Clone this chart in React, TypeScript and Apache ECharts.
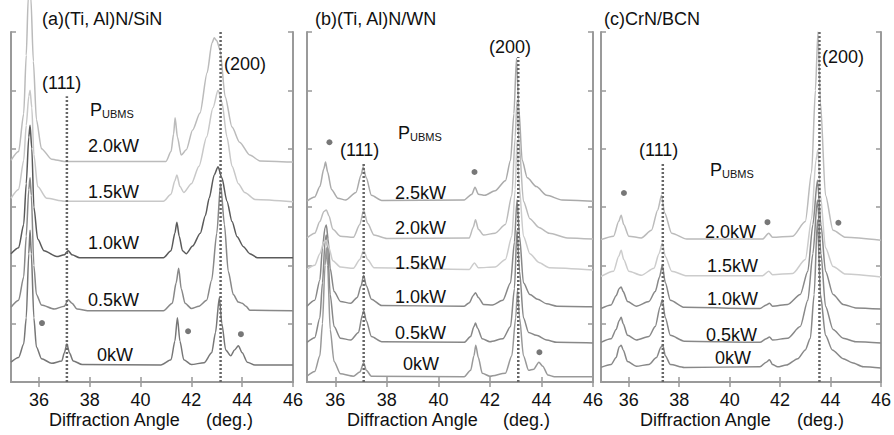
import React, { useEffect, useRef } from 'react';
import * as echarts from 'echarts';

// ---------- tick labels ----------
const X_TICKS = [36, 38, 40, 42, 44, 46];
const X_MIN = 34.9;
const X_MAX = 46;

// ---------- panel (a) (Ti, Al)N/SiN ----------
const a0kW = [[34.9,0.34],[35.2,0.42],[35.4,0.65],[35.5,1.1],[35.6,2.2],[35.65,2.6],[35.7,2.2],[35.8,1.1],[35.9,0.6],[36.1,0.4],[36.5,0.32],[36.9,0.36],[37.0,0.5],[37.1,0.65],[37.2,0.5],[37.35,0.36],[37.7,0.3],[40.8,0.29],[41.2,0.38],[41.35,0.7],[41.45,1.1],[41.55,0.7],[41.7,0.38],[42.0,0.3],[42.5,0.33],[42.8,0.5],[42.95,0.85],[43.1,1.45],[43.2,1.0],[43.35,0.55],[43.55,0.45],[43.7,0.55],[43.85,0.62],[44.0,0.5],[44.2,0.34],[44.5,0.29],[46,0.29]];
const a05kW = [[34.9,1.28],[35.2,1.4],[35.4,1.8],[35.5,2.5],[35.6,3.3],[35.65,3.5],[35.7,3.2],[35.8,2.0],[35.9,1.5],[36.1,1.32],[36.6,1.25],[37.0,1.3],[37.15,1.41],[37.3,1.35],[37.5,1.25],[38,1.22],[40.9,1.22],[41.25,1.35],[41.4,1.7],[41.5,1.95],[41.6,1.6],[41.75,1.35],[42.0,1.26],[42.3,1.3],[42.6,1.4],[42.8,1.75],[43.0,2.55],[43.15,3.4],[43.3,2.7],[43.45,1.9],[43.65,1.5],[43.85,1.37],[44.0,1.35],[44.15,1.3],[44.3,1.23],[46,1.22]];
const a10kW = [[34.9,2.2],[35.2,2.3],[35.4,2.7],[35.5,3.4],[35.6,4.2],[35.65,4.4],[35.72,4.0],[35.8,3.0],[35.95,2.45],[36.2,2.25],[36.7,2.15],[37.0,2.18],[37.15,2.25],[37.3,2.18],[37.6,2.13],[40.9,2.13],[41.2,2.25],[41.35,2.55],[41.43,2.74],[41.52,2.5],[41.65,2.25],[41.8,2.2],[42.05,2.33],[42.35,2.55],[42.55,2.85],[42.7,3.15],[42.9,3.55],[43.05,3.69],[43.2,3.5],[43.4,3.1],[43.6,2.75],[43.8,2.49],[44.05,2.32],[44.3,2.2],[44.6,2.13],[46,2.13]];
const a15kW = [[34.9,3.15],[35.2,3.3],[35.4,3.8],[35.5,4.4],[35.6,4.9],[35.65,5.0],[35.72,4.7],[35.8,3.9],[35.95,3.35],[36.3,3.15],[37,3.1],[40.9,3.1],[41.2,3.22],[41.35,3.45],[41.43,3.55],[41.55,3.35],[41.7,3.25],[42.0,3.4],[42.3,3.7],[42.6,4.2],[42.85,4.7],[43.05,5.0],[43.2,4.8],[43.4,4.2],[43.6,3.7],[43.85,3.4],[44.1,3.25],[44.5,3.13],[46,3.09]];
const a20kW = [[34.9,3.8],[35.2,3.95],[35.4,4.6],[35.5,5.6],[35.58,6.6],[35.68,6.6],[35.78,5.5],[35.9,4.5],[36.1,4.0],[36.5,3.82],[37,3.78],[41.0,3.78],[41.2,3.95],[41.3,4.25],[41.36,4.53],[41.45,4.2],[41.6,3.89],[41.8,3.98],[42.05,4.32],[42.34,4.61],[42.62,5.3],[42.81,5.81],[42.9,5.9],[43.0,5.85],[43.13,5.69],[43.33,4.89],[43.6,4.37],[43.9,4.11],[44.3,3.89],[44.7,3.79],[46,3.77]];
const aStars = [[36.12,1.01],[41.87,0.87],[43.95,0.82]];
const aLine111 = [[37.1,0],[37.1,4.9]];
const aLine200 = [[43.15,0],[43.15,6]];

// ---------- panel (b) (Ti, Al)N/WN ----------
const b0kW = [[34.9,0.1],[35.2,0.18],[35.4,0.45],[35.5,1.0],[35.6,2.0],[35.65,2.3],[35.7,2.0],[35.8,0.9],[35.95,0.35],[36.2,0.14],[36.7,0.1],[36.95,0.17],[37.1,0.33],[37.2,0.2],[37.4,0.1],[41.0,0.09],[41.25,0.2],[41.38,0.45],[41.45,0.63],[41.55,0.42],[41.7,0.15],[42.0,0.1],[42.6,0.15],[42.85,0.45],[43.0,1.1],[43.07,1.58],[43.15,1.1],[43.3,0.45],[43.5,0.2],[43.7,0.22],[43.9,0.34],[44.05,0.27],[44.25,0.12],[44.5,0.09],[46,0.09]];
const b05kW = [[34.9,0.68],[35.2,0.76],[35.4,1.1],[35.5,1.7],[35.6,2.4],[35.65,2.52],[35.7,2.3],[35.8,1.5],[35.95,0.95],[36.2,0.75],[36.6,0.72],[36.9,0.85],[37.05,1.15],[37.1,1.23],[37.2,1.05],[37.4,0.78],[37.8,0.69],[41.0,0.68],[41.25,0.78],[41.38,0.95],[41.44,1.01],[41.52,0.92],[41.7,0.74],[42.0,0.69],[42.5,0.74],[42.8,0.95],[42.95,1.6],[43.05,2.6],[43.15,1.9],[43.3,1.1],[43.5,0.85],[43.8,0.8],[44.2,0.72],[44.6,0.68],[46,0.67]];
const b10kW = [[34.9,1.3],[35.2,1.4],[35.4,1.75],[35.5,2.3],[35.6,2.65],[35.65,2.69],[35.72,2.45],[35.8,1.95],[35.95,1.55],[36.2,1.38],[36.6,1.35],[36.85,1.45],[37.0,1.65],[37.1,1.83],[37.2,1.65],[37.4,1.42],[37.8,1.31],[41.0,1.3],[41.2,1.36],[41.35,1.48],[41.44,1.53],[41.55,1.45],[41.75,1.33],[42.1,1.32],[42.5,1.4],[42.8,1.7],[42.95,2.4],[43.05,3.12],[43.15,2.5],[43.3,1.7],[43.55,1.5],[43.85,1.42],[44.2,1.34],[44.6,1.3],[46,1.29]];
const b15kW = [[34.9,1.93],[35.2,2.0],[35.4,2.2],[35.55,2.4],[35.65,2.43],[35.75,2.3],[35.9,2.08],[36.2,1.97],[36.7,1.95],[36.95,2.1],[37.1,2.26],[37.25,2.1],[37.5,1.96],[41.2,1.93],[41.4,2.04],[41.55,1.96],[42.2,1.97],[42.6,2.1],[42.85,2.5],[42.98,3.3],[43.05,4.15],[43.13,3.4],[43.3,2.5],[43.55,2.2],[43.9,2.05],[44.3,1.96],[46,1.92]];
const b20kW = [[34.9,2.47],[35.2,2.55],[35.4,2.75],[35.55,2.92],[35.65,2.95],[35.75,2.85],[35.9,2.62],[36.2,2.5],[36.7,2.48],[36.95,2.7],[37.1,2.95],[37.25,2.72],[37.5,2.52],[38,2.46],[41.2,2.47],[41.35,2.65],[41.44,2.78],[41.55,2.62],[41.75,2.52],[42.2,2.55],[42.6,2.7],[42.85,3.2],[42.98,4.2],[43.05,4.83],[43.13,4.1],[43.3,3.1],[43.55,2.8],[43.9,2.65],[44.3,2.55],[45,2.47],[46,2.45]];
const b25kW = [[34.9,3.1],[35.2,3.17],[35.4,3.35],[35.55,3.65],[35.62,3.77],[35.7,3.6],[35.85,3.3],[36.1,3.15],[36.4,3.12],[36.8,3.25],[37.0,3.55],[37.08,3.69],[37.2,3.5],[37.4,3.2],[37.8,3.11],[41.0,3.12],[41.3,3.22],[41.42,3.34],[41.55,3.22],[41.8,3.2],[42.2,3.28],[42.6,3.45],[42.8,3.8],[42.93,4.6],[43.03,5.55],[43.12,4.7],[43.25,3.8],[43.45,3.5],[43.8,3.35],[44.2,3.2],[44.8,3.12],[46,3.1]];
const bStars = [[35.77,4.11],[41.4,3.6],[43.92,0.51]];
const bLine111 = [[37.1,0],[37.1,3.77]];
const bLine200 = [[43.1,0],[43.1,5.57]];

// ---------- panel (c) CrN/BCN ----------
const c0kW = [[34.9,0.25],[35.3,0.3],[35.5,0.42],[35.62,0.6],[35.7,0.63],[35.78,0.55],[35.95,0.35],[36.3,0.27],[36.8,0.3],[37.1,0.42],[37.28,0.6],[37.35,0.63],[37.45,0.45],[37.65,0.3],[38.2,0.25],[41.2,0.26],[41.45,0.34],[41.58,0.38],[41.7,0.3],[41.9,0.26],[42.25,0.29],[42.7,0.4],[43.0,0.55],[43.2,0.75],[43.35,1.5],[43.48,2.78],[43.6,1.5],[43.8,0.8],[44.07,0.55],[44.5,0.4],[44.86,0.33],[45.3,0.26],[46,0.24]];
const c05kW = [[34.9,0.68],[35.3,0.74],[35.5,0.9],[35.62,1.05],[35.7,1.11],[35.78,1.0],[35.95,0.8],[36.3,0.72],[36.8,0.78],[37.05,0.95],[37.25,1.3],[37.33,1.41],[37.45,1.1],[37.65,0.8],[38.2,0.7],[41.2,0.68],[41.45,0.74],[41.58,0.77],[41.7,0.72],[42.3,0.75],[42.8,0.95],[43.1,1.4],[43.3,2.2],[43.48,3.12],[43.62,2.2],[43.8,1.3],[44.1,0.9],[44.5,0.75],[45.0,0.69],[46,0.67]];
const c10kW = [[34.9,1.26],[35.3,1.32],[35.5,1.48],[35.62,1.6],[35.7,1.63],[35.78,1.55],[35.95,1.38],[36.3,1.3],[36.8,1.38],[37.05,1.55],[37.22,1.8],[37.33,2.0],[37.45,1.7],[37.65,1.4],[38.2,1.28],[41.2,1.26],[41.45,1.32],[41.58,1.35],[41.7,1.3],[42.3,1.33],[42.8,1.5],[43.1,1.9],[43.3,2.7],[43.48,3.46],[43.62,2.7],[43.8,1.9],[44.1,1.5],[44.5,1.33],[45,1.27],[46,1.25]];
const c15kW = [[34.9,1.81],[35.4,1.9],[35.6,2.15],[35.7,2.26],[35.8,2.1],[36.0,1.9],[36.5,1.83],[37.0,1.95],[37.2,2.2],[37.33,2.38],[37.45,2.15],[37.7,1.9],[38.3,1.82],[41.3,1.82],[41.55,1.9],[41.7,1.84],[42.5,1.86],[43.0,2.1],[43.25,2.8],[43.42,3.8],[43.5,3.98],[43.6,3.2],[43.8,2.3],[44.1,1.98],[44.6,1.85],[46,1.8]];
const c20kW = [[34.9,2.44],[35.4,2.5],[35.6,2.75],[35.7,2.86],[35.8,2.7],[36.0,2.5],[36.5,2.47],[36.9,2.6],[37.15,2.95],[37.3,3.2],[37.42,2.9],[37.7,2.55],[38.3,2.45],[41.3,2.45],[41.55,2.55],[41.7,2.48],[42.5,2.5],[43.0,2.75],[43.25,3.6],[43.4,5.0],[43.5,6.0],[43.6,4.8],[43.8,3.2],[44.1,2.6],[44.6,2.48],[46,2.43]];
const cStars = [[35.81,3.24],[41.5,2.74],[44.31,2.73]];
const cLine111 = [[37.35,0],[37.35,3.77]];
const cLine200 = [[43.56,0],[43.56,6]];

const FONT = 'Liberation Sans, Arial, sans-serif';

const panels = [
  { grid: { left: 11, top: 32, width: 282, height: 350 },
    traces: [[a0kW, '#777'], [a05kW, '#888'], [a10kW, '#5a5a5a'], [a15kW, '#c8c8c8'], [a20kW, '#bbb']],
    stars: aStars, lines: [aLine111, aLine200] },
  { grid: { left: 307, top: 32, width: 286, height: 350 },
    traces: [[b0kW, '#999'], [b05kW, '#888'], [b10kW, '#888'], [b15kW, '#ccc'], [b20kW, '#bbb'], [b25kW, '#aaa']],
    stars: bStars, lines: [bLine111, bLine200] },
  { grid: { left: 601, top: 32, width: 282, height: 350 },
    traces: [[c0kW, '#888'], [c05kW, '#888'], [c10kW, '#888'], [c15kW, '#ccc'], [c20kW, '#bbb']],
    stars: cStars, lines: [cLine111, cLine200] },
];

type Txt = [string, number, number, number?];
const texts: Txt[] = [
  ['(a)(Ti, Al)N/SiN', 42, 19], ['(b)(Ti, Al)N/WN', 315, 19], ['(c)CrN/BCN', 604, 19],
  ['(111)', 42, 83], ['(200)', 224, 64], ['P', 90, 110], ['UBMS', 102, 114, 11],
  ['2.0kW', 88, 146], ['1.5kW', 88, 192], ['1.0kW', 88, 243], ['0.5kW', 88, 300], ['0kW', 97, 355],
  ['(111)', 340, 150], ['(200)', 489, 47], ['P', 398, 133], ['UBMS', 410, 137, 11],
  ['2.5kW', 395, 193], ['2.0kW', 395, 228], ['1.5kW', 395, 263], ['1.0kW', 395, 297], ['0.5kW', 395, 333], ['0kW', 403, 364],
  ['(111)', 639, 150], ['(200)', 822, 57], ['P', 710, 170], ['UBMS', 722, 174, 11],
  ['2.0kW', 705, 232], ['1.5kW', 707, 266], ['1.0kW', 707, 299], ['0.5kW', 706, 335], ['0kW', 715, 358],
  ['Diffraction Angle', 49, 420], ['(deg.)', 206, 420],
  ['Diffraction Angle', 347, 420], ['(deg.)', 503, 420],
  ['Diffraction Angle', 640, 420], ['(deg.)', 797, 420],
];

function buildOption() {
  const grid: any[] = [];
  const xAxis: any[] = [];
  const yAxis: any[] = [];
  const series: any[] = [];
  const axisLine = { lineStyle: { color: '#9a9a9a', width: 2 } };
  panels.forEach((p, i) => {
    grid.push(p.grid);
    xAxis.push({
      type: 'value', gridIndex: i, min: X_MIN, max: X_MAX, position: 'bottom',
      axisLine, splitLine: { show: false },
      axisTick: { inside: true, length: 5, customValues: X_TICKS, lineStyle: { color: '#999', width: 1.5 } },
      axisLabel: { customValues: X_TICKS, color: '#111', fontSize: 18, fontFamily: FONT, margin: 9 },
    });
    xAxis.push({
      type: 'value', gridIndex: i, min: X_MIN, max: X_MAX, position: 'top',
      axisLine, splitLine: { show: false },
      axisTick: { inside: true, length: 5, customValues: X_TICKS, lineStyle: { color: '#999', width: 1.5 } },
      axisLabel: { show: false },
    });
    ['left', 'right'].forEach((pos) => {
      yAxis.push({
        type: 'value', gridIndex: i, min: 0, max: 6, interval: 1, position: pos,
        axisLine: { show: true, ...axisLine }, splitLine: { show: false },
        axisTick: { show: true, inside: true, length: 5, lineStyle: { color: '#999', width: 1.5 } },
        axisLabel: { show: false },
      });
    });
    p.traces.forEach(([data, color]) => {
      series.push({
        type: 'line', xAxisIndex: 2 * i, yAxisIndex: 2 * i, data, showSymbol: false,
        smooth: 0.25, smoothMonotone: 'x', clip: false, silent: true,
        lineStyle: { color, width: 1.5 },
      });
    });
    p.lines.forEach((data) => {
      series.push({
        type: 'line', xAxisIndex: 2 * i, yAxisIndex: 2 * i, data, showSymbol: false,
        silent: true, z: 5,
        lineStyle: { color: '#666', width: 2.5, type: [2, 2] },
      });
    });
    series.push({
      type: 'scatter', xAxisIndex: 2 * i, yAxisIndex: 2 * i, data: p.stars,
      symbol: 'circle', symbolSize: 6, silent: true, z: 6,
      itemStyle: { color: '#555' },
    });
  });
  const graphic = texts.map(([t, x, y, fs]) => ({
    type: 'text', x, y, silent: true, z: 100,
    style: { text: t, fill: '#111', font: `${fs || 18}px ${FONT}`, textAlign: 'left', textVerticalAlign: 'middle', verticalAlign: 'middle' },
  }));
  return { animation: false, backgroundColor: '#fff', grid, xAxis, yAxis, series, graphic };
}

export default function App() {
  const ref = useRef<HTMLDivElement>(null);
  useEffect(() => {
    const chart = echarts.init(ref.current!, null, { renderer: 'svg' });
    chart.setOption(buildOption() as any);
    return () => chart.dispose();
  }, []);
  return (
    <div
      ref={ref}
      style={{ position: 'fixed', left: 0, top: 0, width: 894, height: 435, background: '#fff' }}
    />
  );
}
